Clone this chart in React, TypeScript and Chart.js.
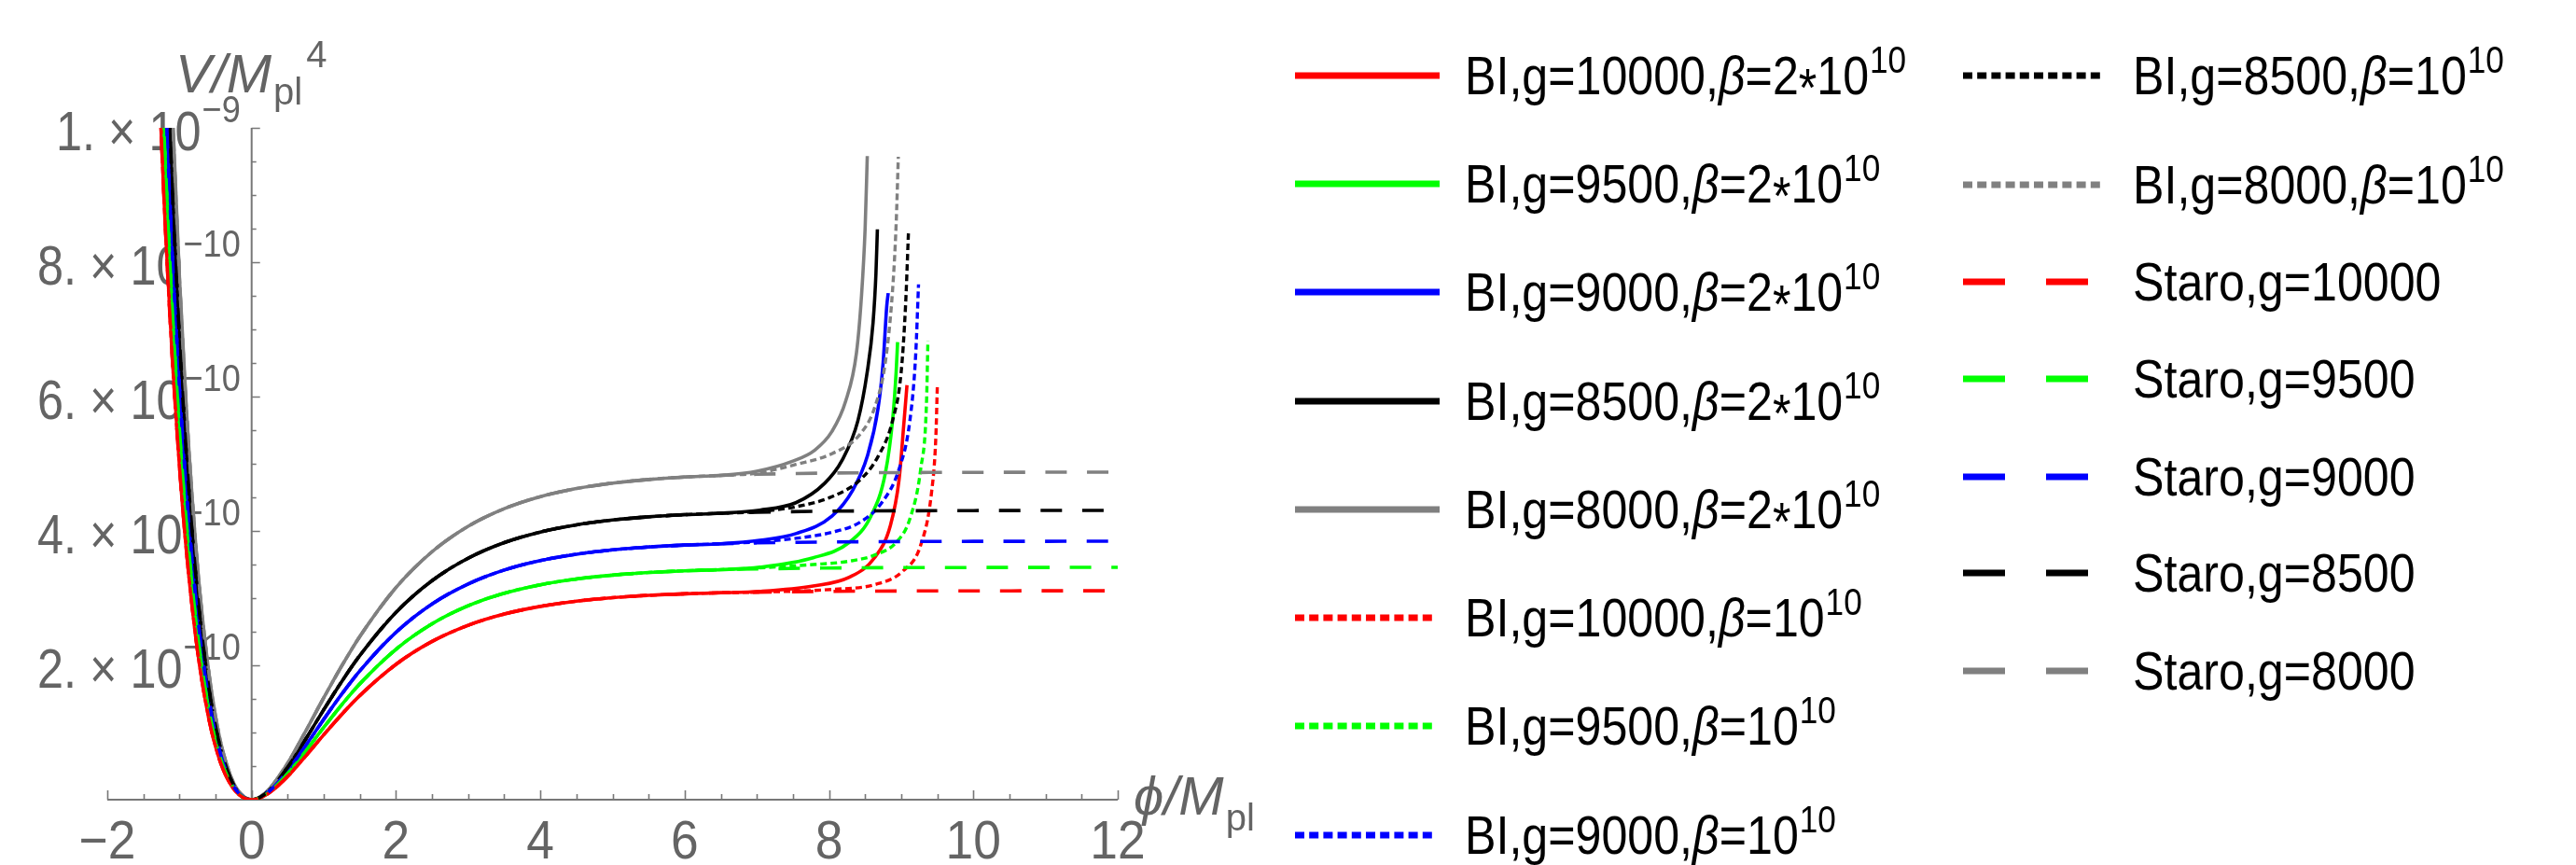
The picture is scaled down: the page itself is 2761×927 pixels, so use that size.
import React, { useEffect, useRef } from "react";
import { Chart, registerables } from "chart.js";

Chart.register(...registerables);

// ---------- axes (y values in units of 1e-10) ----------
const X_MIN = -2;
const X_MAX = 12;
const Y_MIN = 0;
const Y_MAX = 10;
const X_TICKS = [-2, 0, 2, 4, 6, 8, 10, 12];
const X_TICK_LABELS = ["\u22122", "0", "2", "4", "6", "8", "10", "12"];
const Y_TICKS = [2, 4, 6, 8, 10];
const Y_TICK_BASE = ["2. \u00d7 10", "4. \u00d7 10", "6. \u00d7 10", "8. \u00d7 10", "1. \u00d7 10"];
const Y_TICK_EXP = ["\u221210", "\u221210", "\u221210", "\u221210", "\u22129"];
const MINOR_STEP = 0.5;

// ---------- series ----------
const G_VALUES = ["10000", "9500", "9000", "8500", "8000"];
const COLORS = ["#ff0000", "#00ff00", "#0000ff", "#000000", "#808080"];

// shared part of every curve (left wall, valley, rise to plateau)
const PHI_CORE = [-1.3, -1.2, -1.1, -1.0, -0.9, -0.75, -0.6, -0.5, -0.4, -0.25, -0.1, 0, 0.1, 0.25, 0.5, 0.75, 1, 1.25, 1.5, 2, 2.5, 3, 3.5, 4, 4.5, 5, 5.5, 6, 6.5];
const CORE_G10000 = [11.1, 8.61, 6.58, 4.96, 3.66, 2.216, 1.242, 0.79, 0.463, 0.16, 0.0225, 0, 0.0191, 0.106, 0.349, 0.652, 0.968, 1.272, 1.551, 2.014, 2.355, 2.596, 2.763, 2.877, 2.954, 3.006, 3.041, 3.064, 3.079];
const CORE_G9500 = [12.35, 9.575, 7.32, 5.51, 4.07, 2.464, 1.381, 0.878, 0.515, 0.177, 0.025, 0, 0.0213, 0.118, 0.388, 0.725, 1.077, 1.415, 1.725, 2.239, 2.618, 2.886, 3.072, 3.199, 3.285, 3.342, 3.381, 3.407, 3.424];
const CORE_G9000 = [13.73, 10.65, 8.14, 6.13, 4.53, 2.741, 1.537, 0.977, 0.573, 0.197, 0.0279, 0, 0.0237, 0.131, 0.432, 0.806, 1.198, 1.574, 1.918, 2.491, 2.913, 3.211, 3.418, 3.559, 3.654, 3.718, 3.761, 3.79, 3.809];
const CORE_G8500 = [15.37, 11.92, 9.12, 6.86, 5.07, 3.068, 1.72, 1.094, 0.642, 0.221, 0.0312, 0, 0.0265, 0.147, 0.484, 0.903, 1.341, 1.762, 2.147, 2.788, 3.26, 3.594, 3.826, 3.984, 4.09, 4.162, 4.21, 4.242, 4.263];
const CORE_G8000 = [17.4, 13.5, 10.32, 7.77, 5.74, 3.473, 1.948, 1.238, 0.726, 0.25, 0.0353, 0, 0.03, 0.166, 0.547, 1.022, 1.518, 1.994, 2.431, 3.157, 3.691, 4.069, 4.331, 4.51, 4.631, 4.712, 4.766, 4.803, 4.827];

// BI, beta = 2*10^10 : end of curve [phi, V]
const BI2_TAIL_G10000 = [[7.04, 3.1], [7.78, 3.18], [8.28, 3.31], [8.63, 3.6], [8.85, 4.08], [8.97, 4.76], [9.04, 5.64], [9.08, 6.17]];
const BI2_TAIL_G9500 = [[7.04, 3.46], [7.78, 3.6], [8.28, 3.83], [8.58, 4.22], [8.78, 4.86], [8.88, 5.64], [8.93, 6.37], [8.95, 6.81]];
const BI2_TAIL_G9000 = [[7.04, 3.86], [7.54, 3.96], [8.04, 4.22], [8.33, 4.61], [8.53, 5.11], [8.68, 5.83], [8.75, 6.51], [8.8, 7.35], [8.82, 7.54]];
const BI2_TAIL_G8500 = [[7.04, 4.31], [7.54, 4.42], [7.94, 4.71], [8.18, 5.05], [8.4, 5.64], [8.53, 6.37], [8.61, 7.1], [8.65, 7.83], [8.67, 8.49]];
const BI2_TAIL_G8000 = [[7.0, 4.89], [7.5, 5.04], [7.8, 5.2], [8.04, 5.48], [8.23, 5.93], [8.38, 6.65], [8.45, 7.5], [8.5, 8.5], [8.53, 9.58]];

// BI, beta = 10^10
const BI1_TAIL_G10000 = [[7.04, 3.09], [8.04, 3.13], [8.63, 3.2], [9.02, 3.4], [9.27, 3.79], [9.42, 4.57], [9.48, 5.4], [9.5, 6.14]];
const BI1_TAIL_G9500 = [[7.04, 3.45], [7.78, 3.5], [8.28, 3.55], [8.63, 3.64], [8.93, 3.83], [9.12, 4.18], [9.27, 4.92], [9.35, 5.89], [9.37, 6.83]];
const BI1_TAIL_G9000 = [[7.04, 3.84], [7.54, 3.89], [8.04, 3.98], [8.43, 4.13], [8.73, 4.42], [8.97, 4.92], [9.12, 5.64], [9.2, 6.61], [9.24, 7.67]];
const BI1_TAIL_G8500 = [[7.04, 4.29], [7.54, 4.36], [8.04, 4.51], [8.43, 4.76], [8.68, 5.11], [8.88, 5.64], [9.0, 6.37], [9.06, 7.35], [9.1, 8.43]];
const BI1_TAIL_G8000 = [[7.0, 4.86], [7.54, 4.99], [8.04, 5.15], [8.43, 5.44], [8.63, 5.83], [8.78, 6.51], [8.88, 7.58], [8.93, 8.57], [8.96, 9.57]];

// Starobinsky plateau
const STARO_TAIL_G10000 = [[7, 3.089], [8, 3.101], [9, 3.106], [10, 3.108], [11, 3.109], [12, 3.11]];
const STARO_TAIL_G9500 = [[7, 3.435], [8, 3.448], [9, 3.454], [10, 3.456], [11, 3.457], [12, 3.458]];
const STARO_TAIL_G9000 = [[7, 3.822], [8, 3.836], [9, 3.842], [10, 3.845], [11, 3.846], [12, 3.847]];
const STARO_TAIL_G8500 = [[7, 4.278], [8, 4.294], [9, 4.3], [10, 4.303], [11, 4.305], [12, 4.306]];
const STARO_TAIL_G8000 = [[7, 4.843], [8, 4.861], [9, 4.869], [10, 4.872], [11, 4.874], [12, 4.875]];

const CORES = [CORE_G10000, CORE_G9500, CORE_G9000, CORE_G8500, CORE_G8000];
const BI2_TAILS = [BI2_TAIL_G10000, BI2_TAIL_G9500, BI2_TAIL_G9000, BI2_TAIL_G8500, BI2_TAIL_G8000];
const BI1_TAILS = [BI1_TAIL_G10000, BI1_TAIL_G9500, BI1_TAIL_G9000, BI1_TAIL_G8500, BI1_TAIL_G8000];
const STARO_TAILS = [STARO_TAIL_G10000, STARO_TAIL_G9500, STARO_TAIL_G9000, STARO_TAIL_G8500, STARO_TAIL_G8000];

// ---------- styling / layout ----------
const W = 2761;
const H = 927;
const PLOT_LEFT = 115;
const PLOT_RIGHT = 1198;
const PLOT_TOP = 137;
const PLOT_BOTTOM = 857;
const AXIS_COLOR = "#777777";
const LABEL_COLOR = "#646464";
const FONT = '"Liberation Sans", Arial, Helvetica, sans-serif';

const STYLE = {
  bi2: { dash: [] as number[], width: 3.6, order: 2, legendDash: "" },
  bi1: { dash: [7, 4], width: 3.4, order: 1, legendDash: "10 5.2" },
  staro: { dash: [23, 21.6], width: 3.6, order: 0, legendDash: "45 44" },
};

type Family = "bi2" | "bi1" | "staro";

function buildPoints(core: number[], tail: number[][]) {
  const pts = PHI_CORE.map((x, i) => ({ x, y: core[i] }));
  tail.forEach(([x, y]) => pts.push({ x, y }));
  return pts;
}

const FAMILIES: Family[] = ["bi2", "bi1", "staro"];
const TAILS_BY_FAMILY: Record<Family, number[][][]> = { bi2: BI2_TAILS, bi1: BI1_TAILS, staro: STARO_TAILS };

const LEGEND_COL1: [Family, number][] = [
  ["bi2", 0], ["bi2", 1], ["bi2", 2], ["bi2", 3], ["bi2", 4], ["bi1", 0], ["bi1", 1], ["bi1", 2],
];
const LEGEND_COL2: [Family, number][] = [
  ["bi1", 3], ["bi1", 4], ["staro", 0], ["staro", 1], ["staro", 2], ["staro", 3], ["staro", 4],
];
const COL1_ROWS_Y = [81, 197, 313, 430, 546, 662, 778, 895];
const COL2_ROWS_Y = [81, 198, 302, 406, 511, 614, 719];
const COL1_SAMPLE_X = 1388;
const COL1_TEXT_X = 1570;
const COL2_SAMPLE_X = 2104;
const COL2_TEXT_X = 2286;

function condensedText(ctx: CanvasRenderingContext2D, text: string, x: number, y: number, align: "left" | "right" | "center", sx: number) {
  const w = ctx.measureText(text).width * sx;
  let left = x;
  if (align === "right") left = x - w;
  else if (align === "center") left = x - w / 2;
  ctx.save();
  ctx.translate(left, y);
  ctx.scale(sx, 1);
  ctx.textAlign = "left";
  ctx.fillText(text, 0, 0);
  ctx.restore();
  return w;
}

const axesPlugin = {
  id: "mmaAxes",
  beforeDatasetsDraw(chart: any) {
    const ctx = chart.ctx as CanvasRenderingContext2D;
    const xs = chart.scales.x;
    const ys = chart.scales.y;
    const x0 = xs.getPixelForValue(0);
    const y0 = ys.getPixelForValue(0);
    ctx.save();
    ctx.strokeStyle = AXIS_COLOR;
    ctx.lineWidth = 2;
    ctx.lineCap = "butt";
    // axis lines
    ctx.beginPath();
    ctx.moveTo(xs.getPixelForValue(X_MIN), y0);
    ctx.lineTo(xs.getPixelForValue(X_MAX), y0);
    ctx.moveTo(x0, y0);
    ctx.lineTo(x0, ys.getPixelForValue(Y_MAX));
    ctx.stroke();
    // x ticks (pointing up)
    ctx.lineWidth = 1.6;
    ctx.beginPath();
    for (let v = X_MIN; v <= X_MAX + 1e-9; v += MINOR_STEP) {
      const major = X_TICKS.some((t) => Math.abs(t - v) < 1e-9);
      const px = Math.round(xs.getPixelForValue(v)) + 0.5;
      ctx.moveTo(px, y0);
      ctx.lineTo(px, y0 - (major ? 10 : 6));
    }
    // y ticks (pointing right)
    for (let v = Y_MIN + MINOR_STEP; v <= Y_MAX + 1e-9; v += MINOR_STEP) {
      const major = Y_TICKS.some((t) => Math.abs(t - v) < 1e-9);
      const py = Math.round(ys.getPixelForValue(v)) + 0.5;
      ctx.moveTo(x0, py);
      ctx.lineTo(x0 + (major ? 9 : 5), py);
    }
    ctx.stroke();

    // x tick labels
    ctx.fillStyle = LABEL_COLOR;
    ctx.textBaseline = "alphabetic";
    ctx.font = `58px ${FONT}`;
    X_TICKS.forEach((v, i) => {
      condensedText(ctx, X_TICK_LABELS[i], xs.getPixelForValue(v), y0 + 63, "center", 0.92);
    });

    // y tick labels: mantissa x 10^exp
    Y_TICKS.forEach((v, i) => {
      const py = ys.getPixelForValue(v);
      ctx.font = `41px ${FONT}`;
      const supW = ctx.measureText(Y_TICK_EXP[i]).width * 0.88;
      const supLeft = x0 - 12 - supW;
      condensedText(ctx, Y_TICK_EXP[i], supLeft, py + 24 - 30, "left", 0.88);
      ctx.font = `60px ${FONT}`;
      condensedText(ctx, Y_TICK_BASE[i], supLeft - 1, py + 24, "right", 0.84);
    });

    // axis labels
    ctx.textAlign = "left";
    // V/M_pl^4
    let lx = 188;
    const lb = 99;
    ctx.font = `italic 58px ${FONT}`;
    ctx.fillText("V/M", lx, lb);
    lx += ctx.measureText("V/M").width + 2;
    ctx.font = `40px ${FONT}`;
    ctx.fillText("pl", lx, lb + 13);
    lx += ctx.measureText("pl").width + 4;
    ctx.fillText("4", lx, lb - 27);
    // phi/M_pl
    let px = xs.getPixelForValue(X_MAX) + 17;
    const pb = y0 + 16;
    ctx.font = `italic 58px ${FONT}`;
    ctx.fillText("\u03d5/M", px, pb);
    px += ctx.measureText("\u03d5/M").width + 2;
    ctx.font = `40px ${FONT}`;
    ctx.fillText("pl", px, pb + 17);
    ctx.restore();
  },
};

function LegendText({ family, g }: { family: Family; g: string }) {
  const sup = (t: string) => (
    <span style={{ fontSize: 40, position: "relative", top: -23, marginLeft: 1 }}>{t}</span>
  );
  if (family === "staro") return <>{`Staro,g=${g}`}</>;
  if (family === "bi2")
    return (
      <>
        {`BI,g=${g},`}
        <i>β</i>
        {"=2"}
        <span style={{ position: "relative", top: 13 }}>*</span>
        {"10"}
        {sup("10")}
      </>
    );
  return (
    <>
      {`BI,g=${g},`}
      <i>β</i>
      {"=10"}
      {sup("10")}
    </>
  );
}

function LegendItem({ family, idx, y, sx, tx }: { family: Family; idx: number; y: number; sx: number; tx: number }) {
  const st = STYLE[family];
  const legendWidth = family === "bi2" ? 155 : 152;
  return (
    <>
      <svg
        width={170}
        height={14}
        style={{ position: "absolute", left: sx, top: y - 7, overflow: "visible" }}
      >
        <line
          x1={0}
          y1={7}
          x2={legendWidth}
          y2={7}
          stroke={COLORS[idx]}
          strokeWidth={7}
          strokeDasharray={st.legendDash || undefined}
        />
      </svg>
      <div
        style={{
          position: "absolute",
          left: tx,
          top: y - 28.5,
          height: 57,
          lineHeight: "57px",
          fontFamily: FONT,
          fontSize: 57,
          color: "#000",
          whiteSpace: "nowrap",
          transform: "scaleX(0.88)",
          transformOrigin: "left center",
        }}
      >
        <LegendText family={family} g={G_VALUES[idx]} />
      </div>
    </>
  );
}

export default function App() {
  const canvasRef = useRef<HTMLCanvasElement | null>(null);

  useEffect(() => {
    const canvas = canvasRef.current;
    if (!canvas) return;
    const datasets: any[] = [];
    FAMILIES.forEach((fam) => {
      CORES.forEach((core, i) => {
        const st = STYLE[fam];
        datasets.push({
          label: `${fam}-${G_VALUES[i]}`,
          data: buildPoints(core, TAILS_BY_FAMILY[fam][i]),
          borderColor: COLORS[i],
          backgroundColor: COLORS[i],
          borderWidth: st.width,
          borderDash: st.dash,
          borderCapStyle: "butt",
          borderJoinStyle: "round",
          cubicInterpolationMode: "monotone",
          pointRadius: 0,
          pointHoverRadius: 0,
          fill: false,
          order: st.order,
        });
      });
    });
    const chart = new Chart(canvas, {
      type: "line",
      data: { datasets },
      options: {
        animation: false,
        responsive: false,
        devicePixelRatio: 1,
        layout: {
          padding: { left: PLOT_LEFT, right: W - PLOT_RIGHT, top: PLOT_TOP, bottom: H - PLOT_BOTTOM },
        },
        scales: {
          x: { type: "linear", min: X_MIN, max: X_MAX, display: false },
          y: { type: "linear", min: Y_MIN, max: Y_MAX, display: false },
        },
        plugins: { legend: { display: false }, tooltip: { enabled: false } },
        events: [],
      },
      plugins: [axesPlugin],
    } as any);
    return () => chart.destroy();
  }, []);

  return (
    <div
      style={{
        position: "absolute",
        left: 0,
        top: 0,
        width: W,
        height: H,
        background: "#ffffff",
        overflow: "hidden",
      }}
    >
      <canvas ref={canvasRef} width={W} height={H} style={{ position: "absolute", left: 0, top: 0, width: W, height: H }} />
      {LEGEND_COL1.map(([fam, idx], r) => (
        <LegendItem key={`c1-${r}`} family={fam} idx={idx} y={COL1_ROWS_Y[r]} sx={COL1_SAMPLE_X} tx={COL1_TEXT_X} />
      ))}
      {LEGEND_COL2.map(([fam, idx], r) => (
        <LegendItem key={`c2-${r}`} family={fam} idx={idx} y={COL2_ROWS_Y[r]} sx={COL2_SAMPLE_X} tx={COL2_TEXT_X} />
      ))}
    </div>
  );
}
